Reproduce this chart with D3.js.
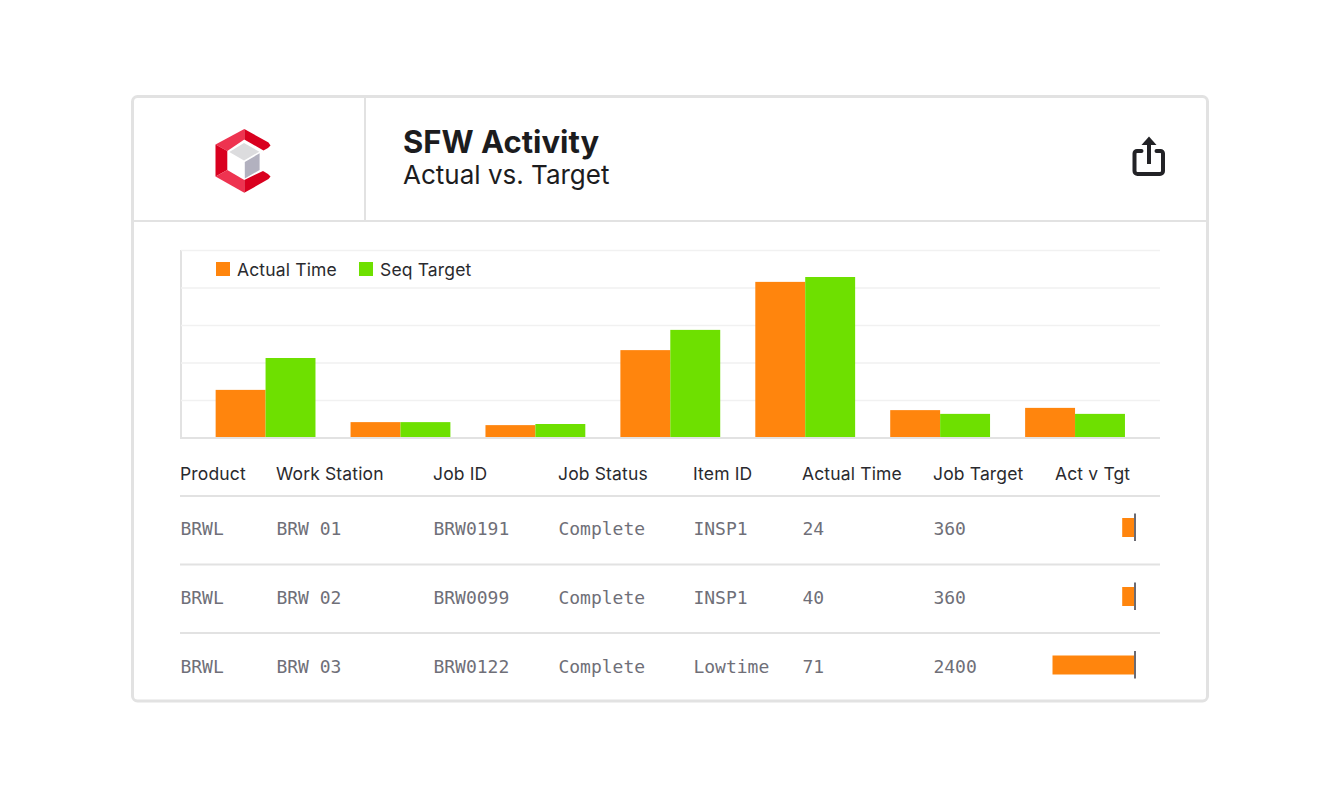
<!DOCTYPE html>
<html><head><meta charset="utf-8">
<script src="https://cdn.jsdelivr.net/npm/d3@7"></script>
<style>
html,body{margin:0;background:#fff}
svg{display:block}
text{font-family:Inter,"Noto Sans",sans-serif;fill:#1c1c1e}
.mono{font-family:"DejaVu Sans Mono","Liberation Mono",monospace;fill:#6f6f78;font-size:18px}
.hd{font-size:17.5px;fill:#2a2a2e;letter-spacing:.15px}
</style></head><body>
<svg id="c" width="1340" height="800"></svg>
<script>
const categories = ["A","B","C","D","E","F","G"];
const seriesNames = ["Actual Time","Seq Target"];
const seriesColors = ["#ff850d","#6ee000"];
const actualTime = [12.7,4.1,3.3,23.3,41.5,7.3,7.9];
const seqTarget = [21.2,4.1,3.6,28.7,42.8,6.3,6.3];
const yTicks = [0,10,20,30,40,50];
const columns = ["Product","Work Station","Job ID","Job Status","Item ID","Actual Time","Job Target","Act v Tgt"];
const colX = [180,276,433,558,693,802,933,1055];
const rows = [
 ["BRWL","BRW 01","BRW0191","Complete","INSP1","24","360"],
 ["BRWL","BRW 02","BRW0099","Complete","INSP1","40","360"],
 ["BRWL","BRW 03","BRW0122","Complete","Lowtime","71","2400"]
];
const actVsTgt = [0.15,0.15,1];

const svg = d3.select("#c");
const line = "#e2e2e2";
// card
svg.append("rect").attr("x",132.5).attr("y",96.5).attr("width",1075).attr("height",604.5).attr("rx",5).attr("fill","#fff").attr("stroke",line).attr("stroke-width",3);
svg.append("line").attr("x1",134).attr("x2",1206).attr("y1",221).attr("y2",221).attr("stroke",line).attr("stroke-width",2);
svg.append("line").attr("x1",365).attr("x2",365).attr("y1",98).attr("y2",220).attr("stroke",line).attr("stroke-width",2);

// logo
const logo = svg.append("g");
const poly=(p,f)=>logo.append("polygon").attr("points",p).attr("fill",f);
const dark="#d9001f", lite="#ee3350";
poly("215.5,144.5 244.3,129 244.3,139.5 227.3,151",lite);
poly("244.3,129 268.5,142.5 270.5,145.5 268,148 263.5,150.5 244.3,139.5",dark);
poly("215.5,144.5 227.3,151 227.3,170 215.5,176.5",dark);
poly("215.5,176.5 227.3,170 244.3,180 244.3,192.8",lite);
poly("244.3,180 263,171 268,174 270.5,176.5 268.5,179 244.3,192.8",dark);
poly("244,143 259.3,151.7 244,160.6 229.3,152","#dcdcde");
poly("259.6,153.3 259.6,170 244.8,178.5 244.8,162","#b2b1bf");

// share icon
const ic = svg.append("g").attr("fill","none").attr("stroke","#222226").attr("stroke-width",4);
ic.append("path").attr("d","M1141.5 151H1137a2.5 2.5 0 0 0-2.5 2.5V171a3 3 0 0 0 3 3H1160a3 3 0 0 0 3-3V153.5a2.5 2.5 0 0 0-2.5-2.5H1156.5").attr("stroke-linecap","round");
ic.append("line").attr("x1",1149).attr("x2",1149).attr("y1",140).attr("y2",164);
ic.append("path").attr("d","M1149 136.5L1141.5 145H1156.5Z").attr("fill","#222226").attr("stroke","none");

// titles
svg.append("text").attr("x",403).attr("y",152.5).attr("font-size",31).attr("font-weight",700).text("SFW Activity");
svg.append("text").attr("x",403).attr("y",184).attr("font-size",26).text("Actual vs. Target");

// chart
const x = d3.scaleBand().domain(categories).range([198.1,1142.5]).paddingInner(0.26).paddingOuter(0.13);
const xs = d3.scaleBand().domain(seriesNames).range([0,x.bandwidth()]);
const y = d3.scaleLinear().domain([0,50]).range([437.5,250]);
const color = d3.scaleOrdinal(seriesNames,seriesColors);

const gy = svg.append("g").attr("transform","translate(181,0)")
  .call(d3.axisLeft(y).tickValues(yTicks).tickSize(-979).tickFormat(""));
gy.selectAll(".tick line").attr("stroke","#f1f1f1").attr("stroke-width",1.5);
gy.select(".domain").attr("d","M0,250V438").attr("stroke",line).attr("stroke-width",2);

const series = [actualTime,seqTarget];
seriesNames.forEach((n,i)=>{
  svg.append("g").selectAll("rect").data(series[i]).join("rect")
    .attr("x",(d,j)=>x(categories[j])+xs(n)).attr("width",xs.bandwidth())
    .attr("y",d=>y(d)).attr("height",d=>y(0)-y(d)).attr("fill",color(n));
});
const gx = svg.append("g").attr("transform","translate(0,438)")
  .call(d3.axisBottom(x).tickSize(0).tickFormat(""));
gx.select(".domain").attr("d","M180,0H1160").attr("stroke",line).attr("stroke-width",2);

// legend
const legX=[216,359];
seriesNames.forEach((n,i)=>{
  svg.append("rect").attr("x",legX[i]).attr("y",262).attr("width",14).attr("height",14).attr("fill",color(n));
  svg.append("text").attr("x",legX[i]+21).attr("y",276).attr("class","hd").text(n);
});

// table
columns.forEach((c,i)=>svg.append("text").attr("class","hd").attr("x",colX[i]).attr("y",480).text(c));
const rowLineY=[496,564.5,633];
rowLineY.forEach(v=>svg.append("line").attr("x1",180).attr("x2",1160).attr("y1",v).attr("y2",v).attr("stroke",line).attr("stroke-width",2));
const textY=[534.5,603.5,672.5], barY=[518,587,655.5];
const bw = d3.scaleLinear().domain([0,1]).range([0,82]);
rows.forEach((r,ri)=>{
  r.forEach((v,ci)=>svg.append("text").attr("class","mono").attr("x",colX[ci]+0.4).attr("y",textY[ri]).text(v));
  svg.append("rect").attr("x",1134.5-bw(actVsTgt[ri])).attr("y",barY[ri]).attr("width",bw(actVsTgt[ri])).attr("height",19).attr("fill","#ff850d");
  svg.append("line").attr("x1",1135).attr("x2",1135).attr("y1",barY[ri]-4.5).attr("y2",barY[ri]+23).attr("stroke","#6a6a72").attr("stroke-width",2);
});
</script>
</body></html>
